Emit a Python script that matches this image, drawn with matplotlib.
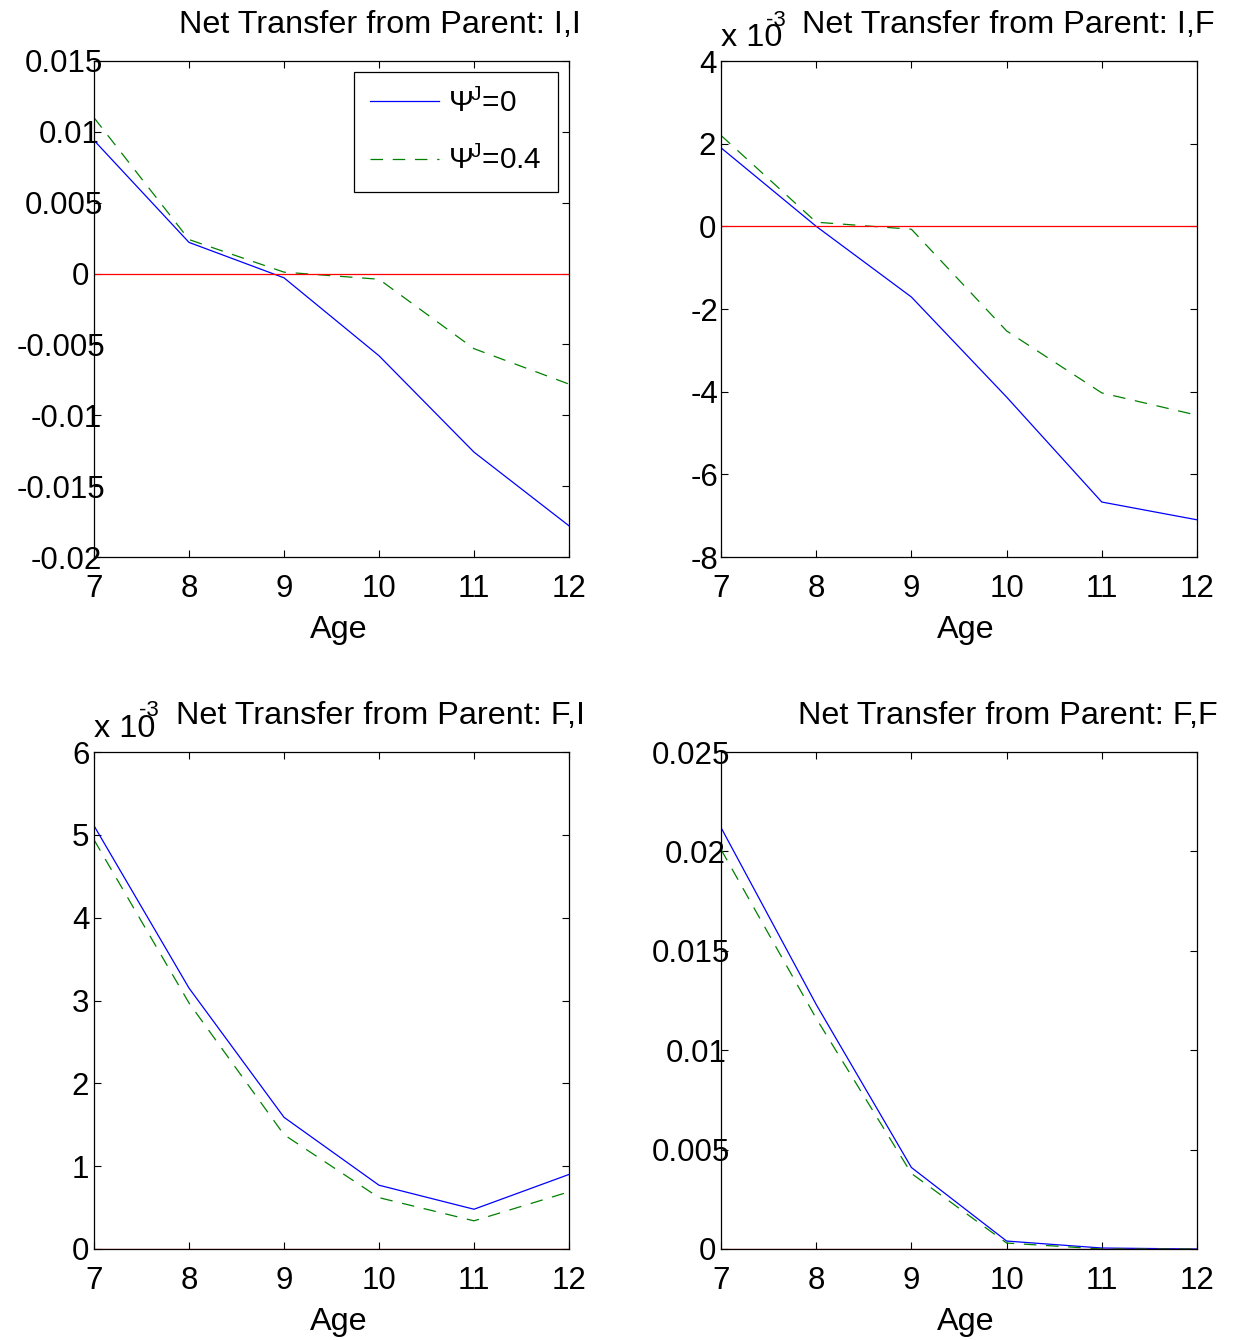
import matplotlib
matplotlib.use('Agg')
import matplotlib.pyplot as plt
from matplotlib.transforms import ScaledTranslation

plt.rcParams['font.family'] = ['Liberation Sans', 'DejaVu Sans']
plt.rcParams['mathtext.fontset'] = 'custom'
plt.rcParams['mathtext.rm'] = 'Liberation Sans'
plt.rcParams['mathtext.it'] = 'Liberation Sans:italic'
plt.rcParams['lines.scale_dashes'] = False

# Данные
age = [7, 8, 9, 10, 11, 12]

ii_psi0 = [0.0094, 0.0022, -0.0003, -0.0058, -0.0126, -0.0178]
ii_psi4 = [0.0110, 0.0024, 0.0001, -0.0004, -0.0053, -0.0078]

# в единицах 1e-3
if_psi0 = [1.9, 0.0, -1.71, -4.13, -6.67, -7.1]
if_psi4 = [2.2, 0.1, -0.07, -2.53, -4.03, -4.57]

fi_psi0 = [5.11, 3.15, 1.59, 0.77, 0.48, 0.90]
fi_psi4 = [4.94, 2.97, 1.38, 0.62, 0.34, 0.69]

ff_psi0 = [0.0212, 0.0123, 0.0041, 0.0004, 0.00005, 0.0]
ff_psi4 = [0.0201, 0.0116, 0.0038, 0.0003, 0.0, 0.0]

titles = ['Net Transfer from Parent: I,I', 'Net Transfer from Parent: I,F',
          'Net Transfer from Parent: F,I', 'Net Transfer from Parent: F,F']

yticks_ii = [-0.02, -0.015, -0.01, -0.005, 0, 0.005, 0.01, 0.015]
ylabels_ii = ['-0.02', '-0.015', '-0.01', '-0.005', '0', '0.005', '0.01', '0.015']
yticks_if = [-8, -6, -4, -2, 0, 2, 4]
yticks_fi = [0, 1, 2, 3, 4, 5, 6]
yticks_ff = [0, 0.005, 0.01, 0.015, 0.02, 0.025]
ylabels_ff = ['0', '0.005', '0.01', '0.015', '0.02', '0.025']

FS = 22.5   # подписи делений
FT = 23.3   # заголовки, подписи осей
fig = plt.figure(figsize=(12.33, 13.4), dpi=100)

W, H = 1233, 1340
def box(x0, y0, x1, y1):
    return [x0 / W, 1 - y1 / H, (x1 - x0) / W, (y1 - y0) / H]

axes = [fig.add_axes(box(94, 61, 569, 557)),
        fig.add_axes(box(721, 61, 1197, 557)),
        fig.add_axes(box(94, 752, 569, 1249)),
        fig.add_axes(box(721, 752, 1197, 1249))]

data = [(ii_psi0, ii_psi4), (if_psi0, if_psi4), (fi_psi0, fi_psi4), (ff_psi0, ff_psi4)]
ylims = [(-0.02, 0.015), (-8, 4), (0, 6), (0, 0.025)]
yt = [(yticks_ii, ylabels_ii), (yticks_if, [str(v) for v in yticks_if]),
      (yticks_fi, [str(v) for v in yticks_fi]), (yticks_ff, ylabels_ff)]

for k, ax in enumerate(axes):
    y0, y4 = data[k]
    ax.plot(age, y0, color='#0000ff', lw=0.9, label=r'$\Psi^{\!\mathrm{J}}$=0')
    ax.plot(age, y4, color='#008000', lw=0.9, linestyle=(0, (9, 7)),
            label=r'$\Psi^{\!\mathrm{J}}$=0.4')
    ax.axhline(0, color='#ff0000', lw=0.9)
    ax.set_xlim(7, 12)
    ax.set_ylim(*ylims[k])
    ax.set_xticks(age)
    ax.set_xticklabels([str(a) for a in age])
    ax.set_yticks(yt[k][0])
    ax.set_yticklabels(yt[k][1])
    ax.tick_params(direction='in', top=True, right=True, length=5, width=0.8,
                   labelsize=FS)
    ax.tick_params(axis='x', pad=12)
    ax.tick_params(axis='y', pad=6.2)
    for s in ax.spines.values():
        s.set_linewidth(0.9)
    ax.set_xlabel('Age', fontsize=FT)
    ax.xaxis.set_label_coords(0.515, -0.117)
    ax.text(0.603, 1 + 36 / 496, titles[k], transform=ax.transAxes,
            ha='center', va='center', fontsize=FT)
    if k in (1, 2):
        ax.text(0.0, 1 + 15 / 496, 'x 10', transform=ax.transAxes,
                ha='left', va='baseline', fontsize=FT)
        ax.text(0.095, 1 + 41 / 496, '-3', transform=ax.transAxes,
                ha='left', va='center', fontsize=16)

leg = axes[0].legend(loc='upper right', bbox_to_anchor=(0.977, 0.978),
                     fontsize=21.5, frameon=True, fancybox=False, framealpha=1,
                     edgecolor='black', handlelength=2.3, handletextpad=0.3,
                     labelspacing=0.95, borderaxespad=0, borderpad=0.55)
leg.get_frame().set_linewidth(0.9)

# сдвиг подписей по оси Y, как в MATLAB (длинные подписи заходят на ось)
fig.canvas.draw()
r = fig.canvas.get_renderer()
for ax in axes:
    for lab in ax.get_yticklabels():
        w = lab.get_window_extent(r).width
        lab.set_transform(lab.get_transform() +
                          ScaledTranslation(0.226 * w / 100, 0, fig.dpi_scale_trans))

plt.savefig('out.png', dpi=100)
